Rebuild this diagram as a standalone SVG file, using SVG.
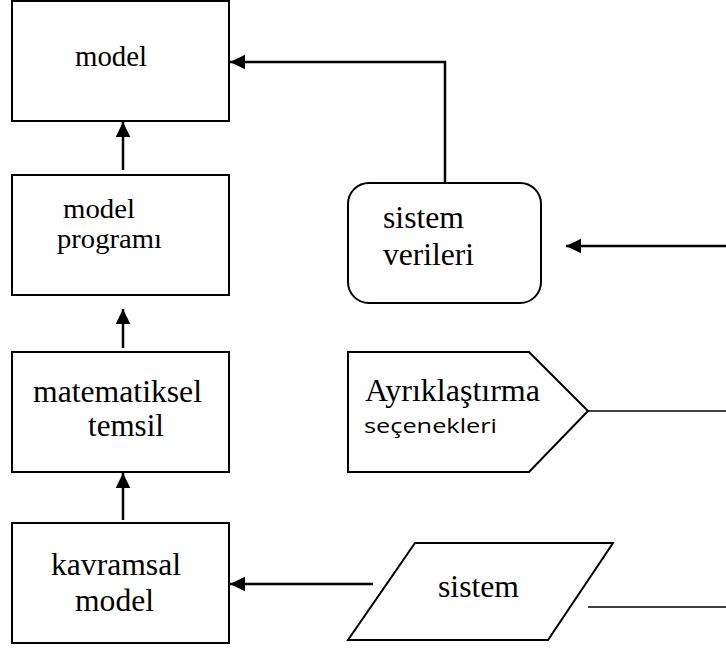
<svg xmlns="http://www.w3.org/2000/svg" width="726" height="650" viewBox="0 0 726 650">
  <style>
    .shape { fill: #ffffff; stroke: #000000; stroke-width: 2; }
    .serif { font-family: "Liberation Serif", "Times New Roman", serif; font-size: 31.5px; fill: #000000; }
    .serif.sm { font-size: 29px; }
    .serif.xs { font-size: 27px; }
    .sans { font-family: "Open Sans", "Liberation Sans", sans-serif; font-size: 20px; fill: #000000; }
    .wire { fill: none; stroke: #000000; stroke-width: 2.5; }
    .thin { fill: none; stroke: #000000; stroke-width: 1.6; }
  </style>
  <defs>
    <marker id="arrow" markerUnits="userSpaceOnUse" markerWidth="16" markerHeight="16" viewBox="0 0 16 16" refX="15" refY="8" orient="auto">
      <path d="M0,0.7 L15,8 L0,15.3 Z" fill="#000000"/>
    </marker>
  </defs>

  <!-- left column -->
  <g id="model">
    <rect class="shape" x="12" y="1" width="217" height="120"/>
    <text class="serif sm" x="75" y="66" textLength="72" lengthAdjust="spacingAndGlyphs">model</text>
  </g>
  <g id="model-programi">
    <rect class="shape" x="12" y="175" width="217" height="120"/>
    <text class="serif xs" x="63" y="218" textLength="72" lengthAdjust="spacingAndGlyphs">model</text>
    <text class="serif xs" x="57" y="248" textLength="105" lengthAdjust="spacingAndGlyphs">programı</text>
  </g>
  <g id="matematiksel-temsil">
    <rect class="shape" x="12" y="352" width="217" height="120"/>
    <text class="serif" x="33" y="402" textLength="169" lengthAdjust="spacingAndGlyphs">matematiksel</text>
    <text class="serif" x="88" y="436" textLength="76" lengthAdjust="spacingAndGlyphs">temsil</text>
  </g>
  <g id="kavramsal-model">
    <rect class="shape" x="12" y="523" width="217" height="120"/>
    <text class="serif" x="51" y="575" textLength="130" lengthAdjust="spacingAndGlyphs">kavramsal</text>
    <text class="serif" x="75" y="611" textLength="79" lengthAdjust="spacingAndGlyphs">model</text>
  </g>

  <!-- right column -->
  <g id="sistem-verileri">
    <rect class="shape" x="348" y="183" width="193" height="120" rx="21" ry="21"/>
    <text class="serif" x="383" y="228" textLength="81" lengthAdjust="spacingAndGlyphs">sistem</text>
    <text class="serif" x="383" y="265" textLength="91" lengthAdjust="spacingAndGlyphs">verileri</text>
  </g>
  <g id="ayriklastirma-secenekleri">
    <polygon class="shape" points="348,352 529,352 588,411 529,472 348,472"/>
    <text class="serif" x="365" y="401" textLength="175" lengthAdjust="spacingAndGlyphs">Ayrıklaştırma</text>
    <text class="sans" x="364" y="433" textLength="133" lengthAdjust="spacingAndGlyphs">seçenekleri</text>
  </g>
  <g id="sistem">
    <polygon class="shape" points="415,543 613,543 548,640 348,640"/>
    <text class="serif" x="438" y="597" textLength="81" lengthAdjust="spacingAndGlyphs">sistem</text>
  </g>

  <!-- connectors -->
  <g id="connectors">
    <line class="wire" x1="123" y1="170" x2="123" y2="122" marker-end="url(#arrow)"/>
    <line class="wire" x1="123" y1="348" x2="123" y2="309" marker-end="url(#arrow)"/>
    <line class="wire" x1="123" y1="520" x2="123" y2="473" marker-end="url(#arrow)"/>
    <polyline class="wire" points="445,183 445,62 230,62" marker-end="url(#arrow)"/>
    <line class="wire" x1="726" y1="246" x2="566" y2="246" marker-end="url(#arrow)"/>
    <line class="wire" x1="373" y1="584" x2="230" y2="584" marker-end="url(#arrow)"/>
    <line class="thin" x1="588" y1="411" x2="726" y2="411"/>
    <line class="thin" x1="588" y1="607" x2="726" y2="607"/>
  </g>
</svg>
